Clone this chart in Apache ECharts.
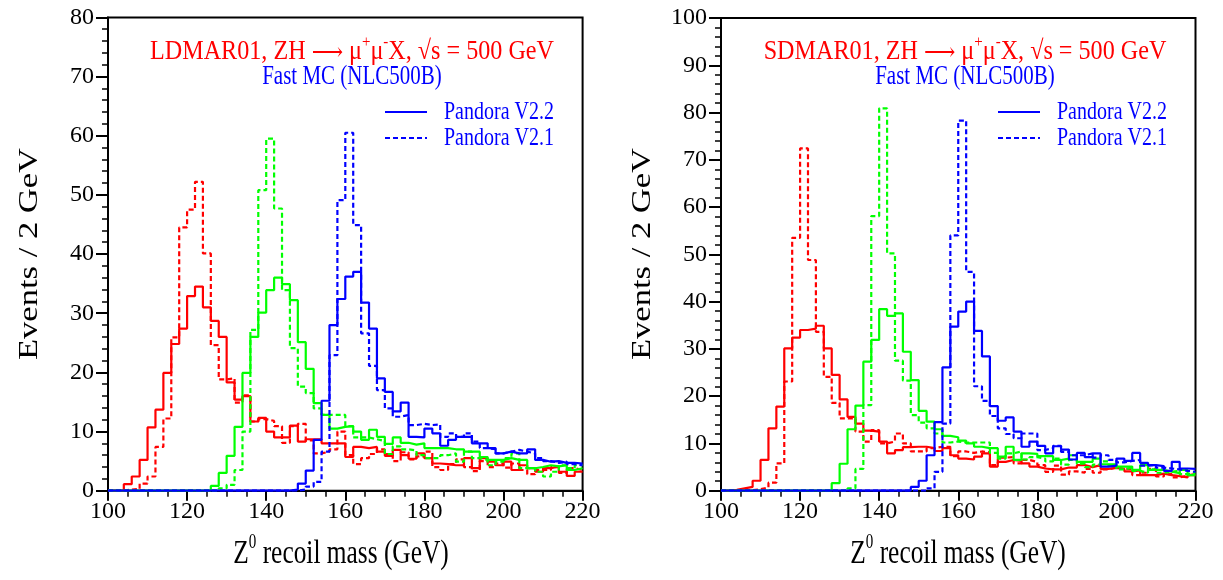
<!DOCTYPE html>
<html><head><meta charset="utf-8">
<script src="https://cdn.jsdelivr.net/npm/echarts@6/dist/echarts.min.js"></script>
<style>html,body{margin:0;padding:0;background:#fff}#c{width:1223px;height:580px}</style>
</head><body><div id="c"></div>
<script>
// Lower bin edges (GeV), 2 GeV bins
const binLow = [100,102,104,106,108,110,112,114,116,118,120,122,124,126,128,130,132,134,136,138,
  140,142,144,146,148,150,152,154,156,158,160,162,164,166,168,170,172,174,176,178,
  180,182,184,186,188,190,192,194,196,198,200,202,204,206,208,210,212,214,216,218];
const xMax = 220;

// Left panel: LDMAR01
const L_red_v22 = [0,0,1.1,2.4,5.2,10.7,13.7,19.9,24.8,27.4, 32.9,34.5,31.0,28.7,26.0,18.3,15.4,16.0,11.7,12.3,
  10.0,9.0,9.0,11.0,8.3,8.7,8.7,8.0,8.0,8.0, 5.7,7.4,7.2,7.4,6.6,5.9,6.9,6.0,5.4,6.3,
  5.5,4.6,4.5,4.3,4.3,5.5,3.8,5.5,4.9,4.3, 4.9,3.5,4.3,3.8,3.2,3.8,4.1,3.2,2.5,3.2];
const L_red_v21 = [0,0,0.2,0.3,1.2,2.4,7.4,12.2,25.9,44.5, 47.5,52.2,40.1,24.6,18.8,19.0,14.9,16.1,11.7,12.1,
  11.8,10.9,8.1,10.9,11.3,8.5,6.3,6.6,7.0,10.0, 6.0,4.5,5.5,6.2,7.0,6.2,5.0,6.5,5.3,5.8,
  6.6,4.0,3.5,4.5,5.3,4.0,3.3,5.0,4.0,4.6, 3.9,4.6,3.5,2.8,3.5,3.5,4.0,3.0,3.8,3.5];
const L_green_v22 = [0,0,0,0,0,0,0,0,0,0, 0,0,0,0.8,3.0,5.9,10.8,19.9,26.0,30.1,
  33.9,36.0,34.9,32.2,25.1,20.6,14.8,12.8,10.5,10.8, 10.9,10.0,8.6,10.3,9.1,7.9,9.0,8.1,7.8,8.0,
  7.2,7.2,7.2,7.0,7.0,6.6,6.6,5.7,5.2,5.2, 5.5,5.2,5.2,3.8,4.0,4.3,4.1,4.3,3.5,3.8];
const L_green_v21 = [0,0,0,0,0,0,0,0,0,0, 0,0,0,0,0.4,1.0,3.5,10.0,27.2,50.8,
  59.5,47.7,33.9,24.1,17.6,16.5,13.9,12.8,12.8,12.8, 10.9,9.0,9.0,8.7,8.4,6.2,7.5,7.0,6.8,6.0,
  5.5,5.5,6.0,6.3,4.9,6.6,5.5,5.2,4.3,4.9, 5.5,6.3,3.8,3.8,3.2,2.4,3.2,4.3,3.8,4.3];
const L_blue_v22 = [0,0,0,0,0,0,0,0,0,0, 0,0,0,0,0,0,0,0,0,0,
  0,0,0,0.2,1.2,3.4,8.6,15.2,28.0,32.4, 36.2,37.0,31.8,27.4,19.0,16.7,13.4,14.9,9.1,9.0,
  10.5,9.7,7.6,8.6,9.1,9.1,8.0,8.0,7.2,6.3, 6.6,6.3,6.3,7.0,5.2,4.9,5.0,4.7,4.7,4.6];
const L_blue_v21 = [0,0,0,0,0,0,0,0,0,0, 0,0,0,0,0,0,0,0,0,0,
  0,0,0,0,0.2,0.7,1.5,6.6,22.9,49.1, 60.5,44.9,26.6,21.1,17.0,13.9,12.5,12.8,11.1,11.3,
  11.1,11.2,9.1,9.7,9.1,9.7,8.3,7.2,7.0,6.3, 6.6,6.9,6.6,6.3,5.5,5.0,4.7,4.9,4.5,4.3];

// Right panel: SDMAR01
const R_red_v22 = [0,0.2,0.5,0.8,2.1,6.5,13.2,17.8,30.1,32.4, 34.0,34.3,34.9,30.1,24.5,19.3,15.6,14.2,12.7,12.5,
  10.4,7.9,8.6,9.2,9.3,9.3,9.0,8.4,9.0,7.5, 6.8,6.6,7.2,7.9,5.1,6.1,6.5,6.3,5.8,5.1,
  4.7,4.5,4.5,4.9,4.9,5.4,5.0,5.4,4.6,4.8, 4.6,4.1,4.3,3.3,3.3,3.6,3.3,3.1,2.8,3.3];
const R_red_v21 = [0,0,0,0.1,0.3,0.7,1.7,5.8,23.1,53.5, 72.4,48.8,33.6,24.1,18.6,15.3,15.3,12.5,10.4,12.8,
  10.0,10.4,12.1,10.0,8.3,8.3,9.0,9.3,9.3,7.3, 8.3,8.0,8.3,8.1,5.4,7.0,7.1,5.8,6.5,6.1,
  5.4,4.0,5.3,3.4,4.1,3.8,4.6,3.8,4.5,4.9, 4.6,4.6,3.3,3.8,4.6,3.0,3.5,2.8,3.2,3.6];
const R_green_v22 = [0,0,0,0,0,0,0,0,0,0, 0,0,0,0,1.6,5.7,13.0,18.0,27.3,31.9,
  38.4,37.0,37.5,29.4,23.4,16.9,14.6,13.0,11.6,11.3, 10.6,10.0,9.3,9.0,9.0,7.2,9.3,6.5,7.9,7.8,
  7.3,7.3,6.5,6.8,7.5,6.1,6.1,6.8,5.6,5.6, 5.1,5.1,4.4,5.4,4.4,4.4,4.0,3.7,4.4,3.3];
const R_green_v21 = [0,0,0,0,0,0,0,0,0,0, 0,0,0,0,0,0,0.5,4.6,18.1,58.1,
  80.9,50.2,27.5,23.3,16.0,14.4,13.2,12.1,10.2,10.4, 10.2,10.2,10.2,10.2,8.0,6.8,7.9,8.3,6.6,7.1,
  6.8,6.2,6.8,5.5,6.5,5.7,5.0,5.5,6.2,5.3, 4.5,4.9,4.2,3.8,4.5,3.8,4.0,4.2,3.5,3.8];
const R_blue_v22 = [0,0,0,0,0,0,0,0,0,0, 0,0,0,0,0,0,0,0,0,0,
  0,0,0,0,0.8,2.1,7.5,14.5,26.1,34.7, 37.9,40.0,33.8,28.4,17.9,14.8,15.5,12.5,9.3,10.4,
  9.5,7.9,9.4,8.7,6.6,8.0,7.1,7.9,5.1,5.3, 6.8,6.3,8.0,5.9,5.4,5.2,4.2,6.1,4.7,4.6];
const R_blue_v21 = [0,0,0,0,0,0,0,0,0,0, 0,0,0,0,0,0,0,0,0,0,
  0,0,0,0,0,0,0.5,4.0,14.2,54.0, 78.3,46.3,22.1,19.0,15.8,13.2,12.0,11.1,12.1,12.1,
  8.6,9.0,9.5,8.2,7.5,7.5,7.9,7.0,7.5,6.5, 6.0,6.3,6.5,5.3,5.5,4.9,4.7,4.5,4.2,4.0];

const RED = '#ff0000', GREEN = '#00ff00', BLUE = '#0000ff';
const FONT = 'Liberation Serif';
const VS = 1.28; // vertical stretch of the reference lettering

function hist(vals){
  const d = binLow.map((x,i)=>[x, vals[i]]);
  d.push([xMax, vals[vals.length-1]]);
  return d;
}
function ser(gi, vals, color, dashed, z){
  return {type:'line', xAxisIndex:gi, yAxisIndex:gi, step:'end', showSymbol:false, symbol:'none',
    data: hist(vals), z: z, animation:false, silent:true,
    lineStyle:{color:color, width:2.2, type: dashed ? [5,3] : 'solid'}};
}
function xAx(gi){
  return {type:'value', gridIndex:gi, min:100, max:220, interval:20,
    axisLine:{onZero:false, lineStyle:{color:'#000', width:2}},
    axisTick:{length:10, lineStyle:{color:'#000', width:2}},
    minorTick:{show:true, splitNumber:4, length:6, lineStyle:{color:'#000', width:1.5}},
    splitLine:{show:false},
    axisLabel:{fontFamily:FONT, fontSize:24, color:'#000', margin:9}};
}
function yAx(gi, max){
  return {type:'value', gridIndex:gi, min:0, max:max, interval:10,
    axisLine:{show:true, lineStyle:{color:'#000', width:2}},
    axisTick:{show:true, length:12, lineStyle:{color:'#000', width:2}},
    minorTick:{show:true, splitNumber:5, length:6, lineStyle:{color:'#000', width:1.5}},
    splitLine:{show:false},
    axisLabel:{fontFamily:FONT, fontSize:24, color:'#000', margin:14}};
}
function titleTexts(cx, name){
  const richT = {n:{fontFamily:FONT, fontSize:21, fill:RED, lineHeight:24, verticalAlign:'bottom'},
                 a:{fontFamily:'DejaVu Serif', fontSize:19, fill:RED, lineHeight:24, verticalAlign:'bottom'},
                 s:{fontFamily:FONT, fontSize:13, fill:RED, lineHeight:13, verticalAlign:'top'}};
  return [
    {type:'text', x:cx, y:50, scaleX:1.15, scaleY:VS, style:{text:'{n|'+name+', ZH }{a|\u27f6}{n| \u03bc}{s|+}{n|\u03bc}{s|-}{n|X, \u221as = 500 GeV}',
      rich:richT, align:'center', verticalAlign:'middle'}},
    {type:'text', x:cx, y:77, scaleY:VS, style:{text:'Fast MC (NLC500B)', fontFamily:FONT, fontSize:21, fill:BLUE, align:'center', verticalAlign:'middle'}}
  ];
}
function legendEls(x0){
  return [
    {type:'line', shape:{x1:x0, y1:112, x2:x0+42, y2:112}, style:{stroke:BLUE, lineWidth:2.2}},
    {type:'line', shape:{x1:x0, y1:138, x2:x0+42, y2:138}, style:{stroke:BLUE, lineWidth:2.2, lineDash:[5,3]}},
    {type:'text', x:x0+59, y:112, scaleY:VS, style:{text:'Pandora V2.2', fontFamily:FONT, fontSize:20, fill:BLUE, align:'left', verticalAlign:'middle'}},
    {type:'text', x:x0+59, y:138, scaleY:VS, style:{text:'Pandora V2.1', fontFamily:FONT, fontSize:20, fill:BLUE, align:'left', verticalAlign:'middle'}}
  ];
}
function axisNames(cxPlot, yLabelX){
  return [
    {type:'text', x:yLabelX, y:254, rotation:Math.PI/2, scaleX:VS,
      style:{text:'Events / 2 GeV', fontFamily:FONT, fontSize:27, fill:'#000', align:'center', verticalAlign:'middle'}},
    {type:'text', x:cxPlot, y:552, scaleX:0.94, scaleY:VS, style:{text:'{n|Z}{s|0}{n| recoil mass (GeV)}',
      rich:{n:{fontFamily:FONT, fontSize:27, fill:'#000', lineHeight:30, verticalAlign:'bottom'},
            s:{fontFamily:FONT, fontSize:16, fill:'#000', lineHeight:16, verticalAlign:'top'}},
      align:'center', verticalAlign:'middle'}}
  ];
}

const chart = echarts.init(document.getElementById('c'), null, {renderer:'canvas'});
chart.setOption({
  animation:false,
  backgroundColor:'#fff',
  grid:[
    {left:108, top:17.4, width:474.6, height:473.3, show:true, borderColor:'#000', borderWidth:2, backgroundColor:'transparent'},
    {left:721, top:18, width:474.5, height:472.7, show:true, borderColor:'#000', borderWidth:2, backgroundColor:'transparent'}
  ],
  xAxis:[xAx(0), xAx(1)],
  yAxis:[yAx(0,80), yAx(1,100)],
  series:[
    ser(0, L_red_v21, RED, true, 2), ser(0, L_red_v22, RED, false, 3),
    ser(0, L_green_v21, GREEN, true, 4), ser(0, L_green_v22, GREEN, false, 5),
    ser(0, L_blue_v21, BLUE, true, 6), ser(0, L_blue_v22, BLUE, false, 7),
    ser(1, R_red_v21, RED, true, 2), ser(1, R_red_v22, RED, false, 3),
    ser(1, R_green_v21, GREEN, true, 4), ser(1, R_green_v22, GREEN, false, 5),
    ser(1, R_blue_v21, BLUE, true, 6), ser(1, R_blue_v22, BLUE, false, 7)
  ],
  graphic:[].concat(titleTexts(352,'LDMAR01'), titleTexts(965,'SDMAR01'),
    legendEls(385), legendEls(998), axisNames(341,30), axisNames(958,643))
});
</script></body></html>
